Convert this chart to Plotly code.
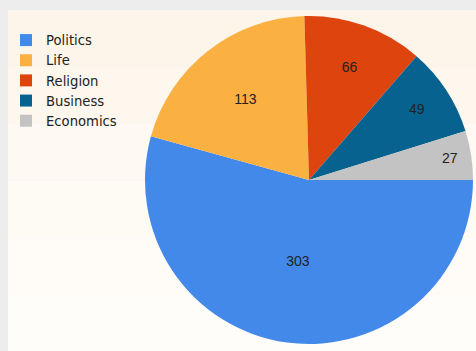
import plotly.graph_objects as go

categories = ["Politics", "Life", "Religion", "Business", "Economics"]
values = [303, 113, 66, 49, 27]
colors = ["#4289e9", "#fbb142", "#de440d", "#07628f", "#c3c3c3"]

W, H = 476, 351
cx, cy, r = 309, 180, 164

fig = go.Figure(go.Pie(
    labels=categories,
    values=values,
    sort=False,
    direction="clockwise",
    rotation=90,
    marker=dict(colors=colors, line=dict(width=0)),
    textinfo="value",
    textposition="inside",
    insidetextorientation="horizontal",
    textfont=dict(family="Liberation Sans", size=14, color="#222222"),
    domain=dict(x=[(cx - r) / W, (cx + r) / W], y=[1 - (cy + r) / H, 1 - (cy - r) / H]),
    hoverinfo="label+value",
))

# background panel (light grey frame with cream panel, faint vertical gradient)
shapes = []
bands = ["#fdf5ea", "#fdf7ee", "#fef9f2", "#fefbf5", "#fffcf8", "#fffdfa"]
top_px, left_px = 10, 8
n = len(bands)
for i, c in enumerate(bands):
    y0 = top_px + (H - top_px) * i / n
    y1 = top_px + (H - top_px) * (i + 1) / n
    shapes.append(dict(type="rect", xref="paper", yref="paper", layer="below",
                       x0=left_px / W, x1=1, y0=1 - y1 / H, y1=1 - y0 / H,
                       fillcolor=c, line=dict(width=0)))

fig.update_layout(
    width=W, height=H,
    margin=dict(l=0, r=0, t=0, b=0),
    paper_bgcolor="#ededed",
    plot_bgcolor="rgba(0,0,0,0)",
    shapes=shapes,
    showlegend=True,
    legend=dict(
        x=6 / W, y=1 - 25 / H, xanchor="left", yanchor="top",
        font=dict(family="DejaVu Sans", size=13.2, color="#222222"),
        bgcolor="rgba(0,0,0,0)",
        tracegroupgap=0,
        itemwidth=30,
    ),
)

fig.write_html("out.html", config={"displayModeBar": False},
               post_script="document.body.style.margin='0';document.body.style.padding='0';")
